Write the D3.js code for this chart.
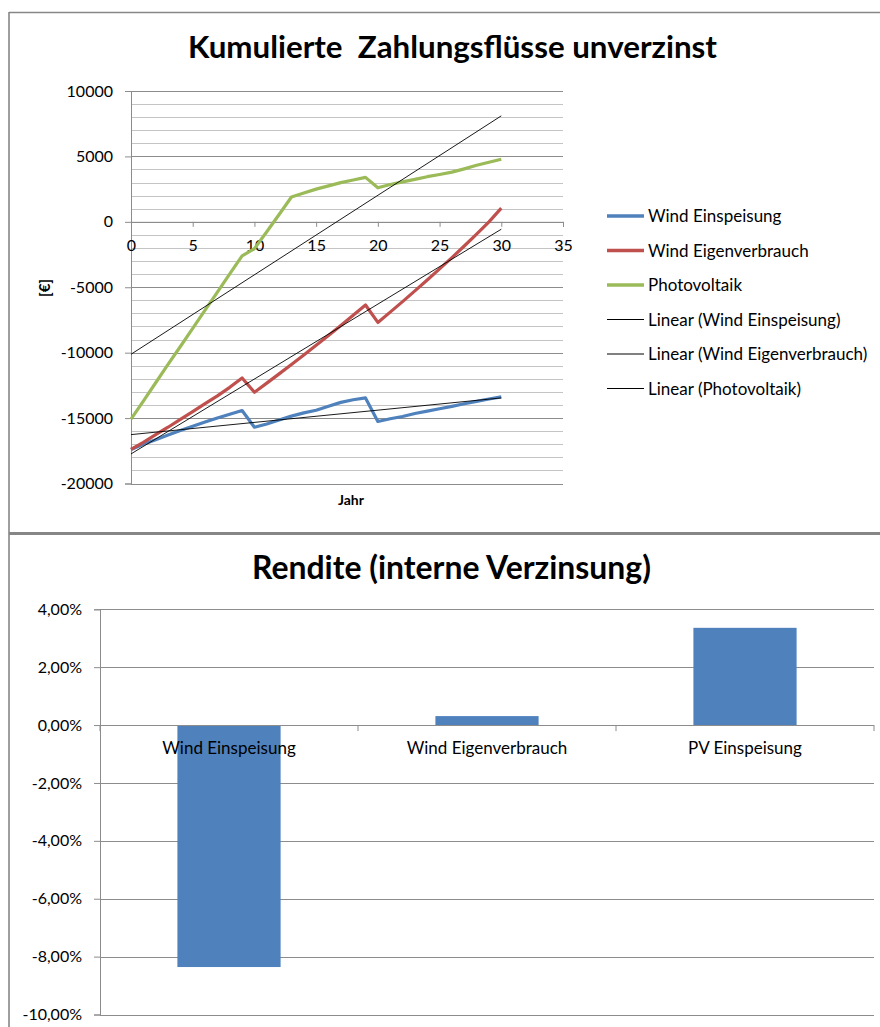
<!DOCTYPE html>
<html><head><meta charset="utf-8">
<script src="https://cdn.jsdelivr.net/npm/d3@7"></script>
<style>
body{margin:0;background:#fff}
svg{display:block}
text{font-family:Lato,"Open Sans",sans-serif;fill:#000}
</style>
</head><body>
<svg id="c" width="880" height="1027"></svg>
<script>
// ---------- data: top chart ----------
const years = [0,1,2,3,4,5,6,7,8,9,10,11,12,13,14,15,16,17,18,19,20,21,22,23,24,25,26,27,28,29,30];
const windEinspeisung = [-17400,-17000,-16650,-16300,-15950,-15620,-15300,-15000,-14700,-14420,-15700,-15450,-15150,-14850,-14600,-14400,-14100,-13800,-13600,-13460,-15260,-15050,-14880,-14650,-14470,-14290,-14100,-13900,-13720,-13540,-13380];
const windEigenverbrauch = [-17400,-16850,-16270,-15700,-15100,-14500,-13900,-13300,-12650,-11930,-13030,-12330,-11620,-10900,-10170,-9430,-8680,-7920,-7140,-6360,-7690,-6900,-6100,-5280,-4450,-3600,-2740,-1850,-940,0,1050];
const photovoltaik = [-15080,-13700,-12300,-10900,-9530,-8140,-6750,-5370,-3980,-2600,-2050,-760,560,1900,2200,2500,2750,3000,3200,3400,2600,2850,3050,3250,3450,3620,3800,4050,4320,4550,4780];
const seriesNames = ["Wind Einspeisung","Wind Eigenverbrauch","Photovoltaik"];
const seriesColors = ["#4F81BD","#C0504D","#9BBB59"];
const trendNames = ["Linear (Wind Einspeisung)","Linear (Wind Eigenverbrauch)","Linear (Photovoltaik)"];
const xTicks = [0,5,10,15,20,25,30,35];
const yTicks = [-20000,-15000,-10000,-5000,0,5000,10000];
const topTitle = "Kumulierte  Zahlungsflüsse unverzinst";
const topXLabel = "Jahr";
const topYLabel = "[€]";

// ---------- data: bottom chart ----------
const barCategories = ["Wind Einspeisung","Wind Eigenverbrauch","PV Einspeisung"];
const barValues = [-0.0836, 0.0031, 0.0336];
const barTicks = [-0.10,-0.08,-0.06,-0.04,-0.02,0,0.02,0.04];
const bottomTitle = "Rendite (interne Verzinsung)";

const svg = d3.select("#c");
svg.append("rect").attr("width",880).attr("height",1027).attr("fill","#fff");

function fitWidth(sel, w){
  const cur = sel.node().getComputedTextLength();
  const fs = parseFloat(sel.attr("font-size"));
  sel.attr("font-size", fs * w / cur);
}

// frames
const frameColor = "#868686";
svg.append("line").attr("x1",9).attr("x2",880).attr("y1",12.5).attr("y2",12.5).attr("stroke",frameColor).attr("stroke-width",1.3);
svg.append("line").attr("x1",9).attr("x2",9).attr("y1",12).attr("y2",1027).attr("stroke",frameColor).attr("stroke-width",1.6);
svg.append("line").attr("x1",9).attr("x2",880).attr("y1",533.5).attr("y2",533.5).attr("stroke",frameColor).attr("stroke-width",3);

// ================= TOP CHART =================
const x = d3.scaleLinear().domain([0,35]).range([131,563]);
const y = d3.scaleLinear().domain([-20000,10000]).range([483.5,91]);
const topG = svg.append("g");

// minor gridlines
const minor = d3.range(-20000, 10001, 1000).filter(v => v % 5000 !== 0);
topG.append("g").selectAll("line").data(minor).join("line")
  .attr("x1",x(0)).attr("x2",x(35)).attr("y1",d=>Math.round(y(d))+0.5).attr("y2",d=>Math.round(y(d))+0.5)
  .attr("stroke","#c4c4c4").attr("stroke-width",1);
// major gridlines
topG.append("g").selectAll("line").data(yTicks).join("line")
  .attr("x1",x(0)).attr("x2",x(35)).attr("y1",d=>Math.round(y(d))+0.5).attr("y2",d=>Math.round(y(d))+0.5)
  .attr("stroke","#8c8c8c").attr("stroke-width",1);

// y axis
const yAx = topG.append("g").attr("transform",`translate(${x(0)},0)`)
  .call(d3.axisLeft(y).tickValues(yTicks).tickSize(6).tickPadding(12).tickFormat(d=>String(d)));
yAx.select(".domain").attr("stroke","#8c8c8c");
yAx.selectAll(".tick line").attr("stroke","#8c8c8c");
yAx.selectAll("text").attr("font-size",16).attr("font-family","Lato").attr("fill","#000");

// x axis at 0
const xAx = topG.append("g").attr("transform",`translate(0,${y(0)})`)
  .call(d3.axisBottom(x).tickValues(xTicks).tickSize(5).tickPadding(13).tickFormat(d=>String(d)));
xAx.select(".domain").attr("stroke","#8c8c8c");
xAx.selectAll(".tick line").attr("stroke","#8c8c8c");
xAx.selectAll("text").attr("font-size",16).attr("font-family","Lato").attr("fill","#000");

// series
const series = [windEinspeisung, windEigenverbrauch, photovoltaik];
const line = d3.line().x((d,i)=>x(years[i])).y(d=>y(d));
series.forEach((s,k)=>{
  topG.append("path").datum(s).attr("d",line).attr("fill","none")
    .attr("stroke",seriesColors[k]).attr("stroke-width",3.2).attr("stroke-linejoin","round");
});

// linear trendlines (least squares)
function fit(vals){
  const mx = d3.mean(years), my = d3.mean(vals);
  let num=0, den=0;
  years.forEach((t,i)=>{ num += (t-mx)*(vals[i]-my); den += (t-mx)*(t-mx); });
  const b = num/den; return {a: my - b*mx, b};
}
series.forEach(s=>{
  const f = fit(s);
  const x0 = years[0], x1 = years[years.length-1];
  topG.append("line").attr("x1",x(x0)).attr("x2",x(x1))
    .attr("y1",y(f.a+f.b*x0)).attr("y2",y(f.a+f.b*x1))
    .attr("stroke","#000").attr("stroke-width",0.9);
});

// titles and labels
const t1 = svg.append("text").attr("x",452.5).attr("y",58).attr("text-anchor","middle")
  .attr("font-weight","bold").attr("font-size",28).attr("xml:space","preserve").style("white-space","pre").text(topTitle);
fitWidth(t1, 529);
svg.append("text").attr("x",351).attr("y",505).attr("text-anchor","middle")
  .attr("font-weight","bold").attr("font-size",14).text(topXLabel);
svg.append("text").attr("transform","translate(50,288) rotate(-90)").attr("text-anchor","middle")
  .attr("font-weight","bold").attr("font-size",15).text(topYLabel);

// legend
const legItems = seriesNames.map((n,i)=>({name:n, color:seriesColors[i], w:3.5}))
  .concat(trendNames.map(n=>({name:n, color:"#000", w:1})));
const leg = svg.append("g").selectAll("g").data(legItems).join("g")
  .attr("transform",(d,i)=>`translate(607,${216 + i*34.5})`);
leg.append("line").attr("x1",0).attr("x2",37).attr("stroke",d=>d.color).attr("stroke-width",d=>d.w);
leg.append("text").attr("x",41).attr("y",6).attr("font-size",17).text(d=>d.name);

// ================= BOTTOM CHART =================
const bx = d3.scaleBand().domain(barCategories).range([100,874]).paddingInner(0.6).paddingOuter(0.3);
const by = d3.scaleLinear().domain([-0.10,0.04]).range([1014.5,609.3]);
const bot = svg.append("g");
const pct = d => (d*100).toFixed(2).replace(".",",") + "%";

bot.append("g").selectAll("line").data(barTicks).join("line")
  .attr("x1",100).attr("x2",874).attr("y1",d=>Math.round(by(d))+0.5).attr("y2",d=>Math.round(by(d))+0.5)
  .attr("stroke","#8c8c8c").attr("stroke-width",1);

const byAx = bot.append("g").attr("transform","translate(100,0)")
  .call(d3.axisLeft(by).tickValues(barTicks).tickSize(6).tickPadding(12).tickFormat(pct));
byAx.select(".domain").attr("stroke","#8c8c8c");
byAx.selectAll(".tick line").attr("stroke","#8c8c8c");
byAx.selectAll("text").attr("font-size",16).attr("font-family","Lato").attr("fill","#222");

// bars
bot.append("g").selectAll("rect").data(barValues).join("rect")
  .attr("x",(d,i)=>bx(barCategories[i])).attr("width",bx.bandwidth())
  .attr("y",d=>by(Math.max(0,d))).attr("height",d=>Math.abs(by(d)-by(0)))
  .attr("fill","#4F81BD");

// category axis at 0
const bounds = [100].concat(barCategories.map(c=>bx(c)+bx.bandwidth()+ (bx.step()-bx.bandwidth())/2));
bot.append("line").attr("x1",100).attr("x2",874).attr("y1",Math.round(by(0))+0.5).attr("y2",Math.round(by(0))+0.5)
  .attr("stroke","#8c8c8c");
bot.append("g").selectAll("line").data(bounds).join("line")
  .attr("x1",d=>d).attr("x2",d=>d).attr("y1",by(0)).attr("y2",by(0)+6).attr("stroke","#8c8c8c");
bot.append("g").selectAll("text").data(barCategories).join("text")
  .attr("x",d=>bx(d)+bx.bandwidth()/2).attr("y",by(0)+29).attr("text-anchor","middle")
  .attr("font-size",17).attr("fill","#222").text(d=>d);

const t2 = svg.append("text").attr("x",451.5).attr("y",579).attr("text-anchor","middle")
  .attr("font-weight","bold").attr("font-size",26).text(bottomTitle);
fitWidth(t2, 399);
</script>
</body></html>
